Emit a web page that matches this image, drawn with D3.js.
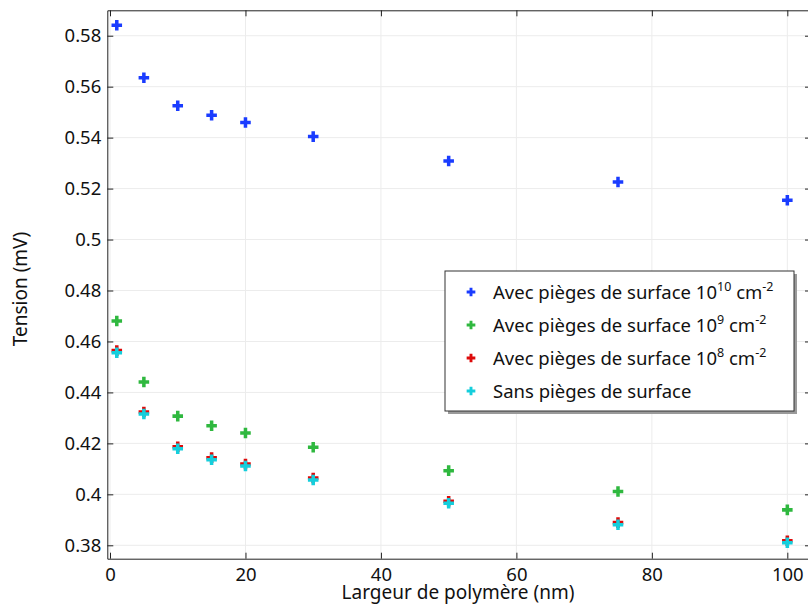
<!DOCTYPE html>
<meta charset="utf-8">
<style>
  body { margin: 0; background: #fff; }
  text { font-family: "Noto Sans", sans-serif; fill: #111; }
  .grid line { stroke: #ececec; stroke-width: 1px; }
  .axis path, .axis line { stroke: #222; }
  .axis text { font-size: 18.5px; }
</style>
<body>
<svg width="808" height="606"></svg>
<script src="https://d3js.org/d3.v7.min.js"></script>
<script>

// polymer width (nm)
var largeur = [1, 5, 10, 15, 20, 30, 50, 75, 100];

// tension (mV) per series
var pieges1e10 = [0.5841, 0.5635, 0.5525, 0.5488, 0.5459, 0.5404, 0.5308, 0.5226, 0.5154];
var pieges1e9  = [0.4680, 0.4441, 0.4307, 0.4269, 0.4241, 0.4185, 0.4093, 0.4011, 0.3939];
var pieges1e8  = [0.4564, 0.4323, 0.4187, 0.4144, 0.4119, 0.4064, 0.3973, 0.3889, 0.3818];
var sansPieges = [0.4556, 0.4315, 0.4179, 0.4136, 0.4111, 0.4056, 0.3965, 0.3881, 0.3810];

var xTicks = [0, 20, 40, 60, 80, 100];
var yTicks = [0.38, 0.40, 0.42, 0.44, 0.46, 0.48, 0.50, 0.52, 0.54, 0.56, 0.58];

var series = [
  {values: pieges1e10, color: "#1a3cff", exp: "10", label: "Avec pièges de surface "},
  {values: pieges1e9,  color: "#2fb83f", exp: "9",  label: "Avec pièges de surface "},
  {values: pieges1e8,  color: "#dd0a0a", exp: "8",  label: "Avec pièges de surface "},
  {values: sansPieges, color: "#14cedc", exp: null, label: "Sans pièges de surface"}
];

var svg = d3.select("svg");
var pLeft = 107.3, pRight = 809, pTop = 10.3, pBottom = 558.7;

var x = d3.scaleLinear().domain([-0.4, 103.2]).range([pLeft, pRight]);
var y = d3.scaleLinear().domain([0.37474, 0.58997]).range([pBottom, pTop]);

// grid
var grid = svg.append("g").attr("class", "grid");
grid.selectAll(".gx").data(xTicks).enter().append("line")
  .attr("x1", d => x(d)).attr("x2", d => x(d))
  .attr("y1", pTop).attr("y2", pBottom);
grid.selectAll(".gy").data(yTicks).enter().append("line")
  .attr("x1", pLeft).attr("x2", pRight)
  .attr("y1", d => y(d)).attr("y2", d => y(d));

var fmtY = function(d) { return String(+d.toFixed(2)); };

// axes (ticks pointing inward)
svg.append("g").attr("class", "axis")
  .attr("transform", "translate(0," + pBottom + ")")
  .call(d3.axisBottom(x).tickValues(xTicks).tickSizeInner(-6).tickSizeOuter(0).tickPadding(7))
  .call(g => g.selectAll("text").attr("dy", "0.85em"));

svg.append("g").attr("class", "axis")
  .attr("transform", "translate(0," + pTop + ")")
  .call(d3.axisTop(x).tickValues(xTicks).tickSizeInner(-6).tickSizeOuter(0).tickFormat(""));

svg.append("g").attr("class", "axis")
  .attr("transform", "translate(" + pLeft + ",0)")
  .call(d3.axisLeft(y).tickValues(yTicks).tickSizeInner(-6).tickSizeOuter(0).tickPadding(6).tickFormat(fmtY));

svg.append("g").attr("class", "axis")
  .attr("transform", "translate(" + pRight + ",0)")
  .call(d3.axisRight(y).tickValues(yTicks).tickSizeInner(-4).tickSizeOuter(0).tickFormat(""));

// axis titles
svg.append("text")
  .attr("x", 458).attr("y", 599)
  .attr("text-anchor", "middle").style("font-size", "19px")
  .text("Largeur de polymère (nm)");

svg.append("text")
  .attr("transform", "translate(27,289) rotate(-90)")
  .attr("text-anchor", "middle").style("font-size", "19px")
  .text("Tension (mV)");

// markers
var cross = d3.symbol().type(d3.symbolCross).size(62);
series.forEach(function(s) {
  svg.append("g").selectAll("path")
    .data(s.values).enter().append("path")
    .attr("d", cross)
    .attr("fill", s.color)
    .attr("transform", (d, i) => "translate(" + x(largeur[i]) + "," + y(d) + ")");
});

// legend
var lg = svg.append("g").attr("transform", "translate(445,271)");
lg.append("rect").attr("x", 3).attr("y", 3).attr("width", 349).attr("height", 140)
  .attr("fill", "#9a9a9a");
lg.append("rect").attr("x", 0).attr("y", 0).attr("width", 349).attr("height", 140)
  .attr("fill", "#fff").attr("stroke", "#333").attr("stroke-width", 1);

var smallCross = d3.symbol().type(d3.symbolCross).size(42);
series.forEach(function(s, i) {
  var cy = 21 + i * 33;
  lg.append("path").attr("d", smallCross).attr("fill", s.color)
    .attr("transform", "translate(26," + cy + ")");
  var t = lg.append("text").attr("x", 48).attr("y", cy + 6.5).style("font-size", "18.5px");
  t.append("tspan").text(s.label);
  if (s.exp) {
    t.append("tspan").text("10");
    t.append("tspan").attr("dy", -8).style("font-size", "12.5px").text(s.exp);
    t.append("tspan").attr("dy", 8).text(" cm");
    t.append("tspan").attr("dy", -8).style("font-size", "12.5px").text("-2");
  }
});

</script>
</body>
